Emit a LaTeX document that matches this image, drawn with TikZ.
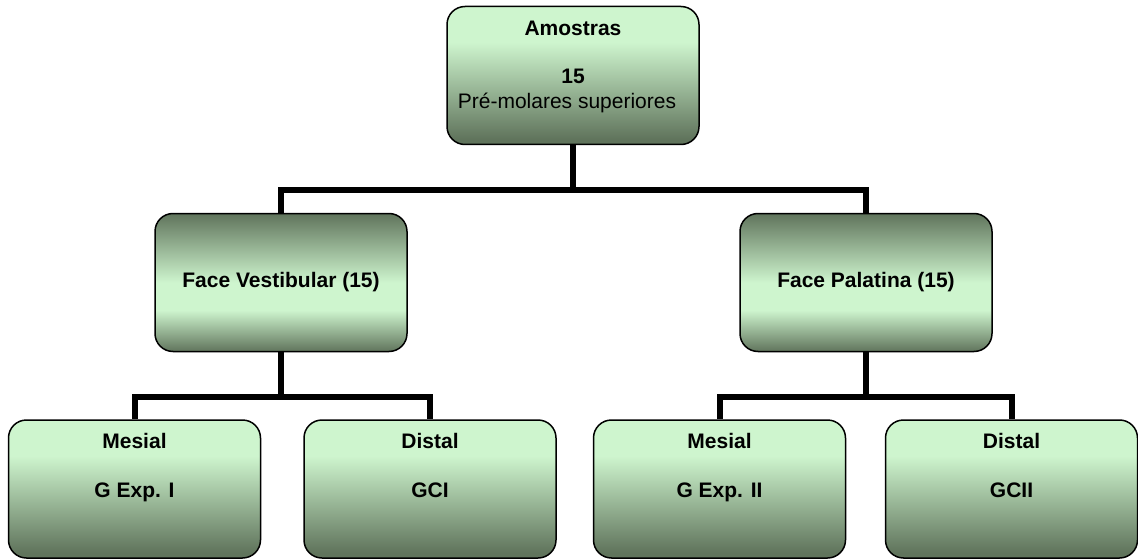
\documentclass[tikz,border=0pt]{standalone}
\usepackage{fontspec}
\setmainfont{Liberation Sans}
\definecolor{lightg}{RGB}{206,245,206}
\definecolor{darkg}{RGB}{96,116,92}
\pgfdeclareverticalshading{fadedown}{100bp}{color(0bp)=(darkg); color(27bp)=(darkg); color(62bp)=(lightg); color(100bp)=(lightg)}
\pgfdeclareverticalshading{midband}{100bp}{color(0bp)=(darkg); color(25bp)=(darkg); color(40bp)=(lightg); color(50bp)=(lightg); color(75bp)=(darkg); color(100bp)=(darkg)}
\tikzset{
  box/.style={draw=black, line width=1.5pt, rounded corners=18pt, minimum width=252pt, minimum height=138pt, inner sep=0pt},
  fadebox/.style={box, shade, shading=fadedown},
  midbox/.style={box, shade, shading=midband, font=\fontsize{21}{25}\selectfont\bfseries},
  lbl/.style={font=\fontsize{21}{25}\selectfont\bfseries, inner sep=0pt, anchor=base},
  plainlbl/.style={font=\fontsize{21}{25}\selectfont, inner sep=0pt, anchor=base},
  conn/.style={line width=6pt}
}
\begin{document}
\begin{tikzpicture}[x=1pt,y=-1pt]
\useasboundingbox (0,0) rectangle (1138,559);
% boxes
\node[fadebox] (top) at (573,75.5) {};
\node[midbox] (vest) at (281,282.5) {Face Vestibular (15)};
\node[midbox] (pal) at (866,282.5) {Face Palatina (15)};
\node[fadebox] (m1) at (134.5,489) {};
\node[fadebox] (d1) at (430,489) {};
\node[fadebox] (m2) at (719.5,489) {};
\node[fadebox] (d2) at (1011.5,489) {};
% texts
\node[lbl] (topA) at (573,35.5) {Amostras};
\node[lbl] (topB) at (573,83.5) {15};
\node[plainlbl] (topC) at (567,109) {Pré-molares superiores};
\node[lbl] (m1a) at (134.5,448) {Mesial};
\node[lbl] (m1b) at (134.5,497.5) {G Exp. I};
\node[lbl] (d1a) at (430,448) {Distal};
\node[lbl] (d1b) at (430,497.5) {GCI};
\node[lbl] (m2a) at (719.5,448) {Mesial};
\node[lbl] (m2b) at (719.5,497.5) {G Exp. II};
\node[lbl] (d2a) at (1011.5,448) {Distal};
\node[lbl] (d2b) at (1011.5,497.5) {GCII};
% connectors
\draw[conn] (top.south) -- ++(0,45) -| (vest.north);
\draw[conn] (top.south) -- ++(0,45) -| (pal.north);
\draw[conn] (vest.south) -- ++(0,45) -| (m1.north);
\draw[conn] (vest.south) -- ++(0,45) -| (d1.north);
\draw[conn] (pal.south) -- ++(0,45) -| (m2.north);
\draw[conn] (pal.south) -- ++(0,45) -| (d2.north);
\end{tikzpicture}
\end{document}
